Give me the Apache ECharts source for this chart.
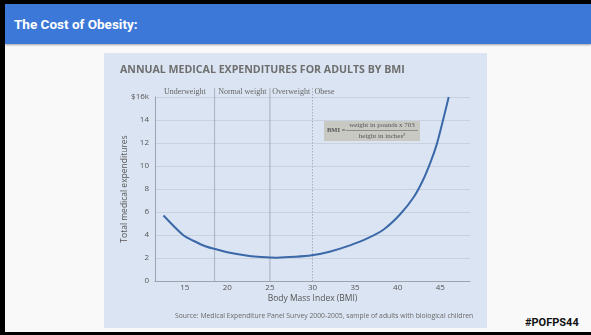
<!DOCTYPE html>
<html>
<head>
<meta charset="utf-8">
<script src="https://cdn.jsdelivr.net/npm/echarts@6/dist/echarts.min.js"></script>
<style>
  html, body { margin: 0; padding: 0; width: 591px; height: 335px; overflow: hidden; background: #000; }
  #slide { position: absolute; left: 5px; top: 4px; width: 586px; height: 328px; background: #f9f9f9; }
  #header { position: absolute; left: 0; top: 0; width: 586px; height: 40px; background: #3c78d8;
            box-shadow: 0 1px 2px rgba(0,0,0,0.35); }
  #header span { position: absolute; left: 9px; top: 12px; font: bold 13.5px Roboto, sans-serif; color: #fff; }
  #tag { position: absolute; left: 520px; top: 312px; font: bold 11px Roboto, sans-serif; color: #111; }
  #panel { position: absolute; left: 104px; top: 53px; width: 383px; height: 275px; background: #dbe4f2; }
  #chart { position: absolute; left: 0; top: 0; width: 591px; height: 335px; }
</style>
</head>
<body>
<div id="slide">
  <div id="header"><span>The Cost of Obesity:</span></div>
  <div id="tag">#POFPS44</div>
</div>
<div id="panel"></div>
<div id="chart"></div>
<script>
// Annual medical expenditures (thousand $) by body mass index
const bmi = [12.5, 14.8, 16, 17.5, 18.7, 20, 22.6, 24, 25.8, 28, 29.9, 32, 34.4, 36.5, 38.4, 40.3, 41.9, 43, 43.9, 44.6, 45.3, 46];
const spending = [5.7, 4.0, 3.5, 3.0, 2.76, 2.5, 2.17, 2.08, 2.03, 2.1, 2.23, 2.55, 3.1, 3.72, 4.5, 5.8, 7.3, 8.8, 10.4, 11.9, 13.9, 16.0];

// BMI category boundaries and names
const boundaries = [18.5, 25, 30];
const categories = ['Underweight', 'Normal weight', 'Overweight', 'Obese'];

const xTicks = [15, 20, 25, 30, 35, 40, 45];

const xMin = 11.5, xMax = 48.5;
const yMax = 16;

const chart = echarts.init(document.getElementById('chart'), null, { renderer: 'canvas' });

const labelFont = 'Liberation Serif';
const sansFont = 'Open Sans';

chart.setOption({
  backgroundColor: 'transparent',
  animation: false,
  title: {
    text: 'ANNUAL MEDICAL EXPENDITURES FOR ADULTS BY BMI',
    left: 120, top: 64, padding: 0,
    textStyle: { fontFamily: sansFont, fontWeight: 'bold', fontSize: 10.6, color: '#6e6e6e' }
  },
  grid: { left: 155, right: 121, top: 97, bottom: 54 },
  xAxis: {
    type: 'value', min: xMin, max: xMax,
    name: 'Body Mass Index (BMI)', nameLocation: 'middle', nameGap: 13, nameMoveOverlap: false,
    nameTextStyle: { fontFamily: sansFont, fontSize: 8.5, color: '#555' },
    axisLine: { show: true, lineStyle: { color: '#9aa3ae', width: 1 } },
    axisTick: { show: false },
    splitLine: { show: false },
    axisLabel: { customValues: xTicks, fontFamily: sansFont, fontSize: 8, color: '#555', margin: 3 }
  },
  yAxis: {
    type: 'value', min: 0, max: yMax, interval: 2,
    name: 'Total medical expenditures', nameLocation: 'middle', nameGap: 26, nameMoveOverlap: false,
    nameTextStyle: { fontFamily: sansFont, fontSize: 8.5, color: '#555' },
    axisLine: { show: true, lineStyle: { color: '#9aa3ae', width: 1 } },
    axisTick: { show: false },
    splitLine: { show: true, lineStyle: { color: '#c8d1de', width: 1 } },
    axisLabel: {
      fontFamily: sansFont, fontSize: 8, color: '#555', margin: 6,
      formatter: v => (v === yMax ? '$' + v + 'k' : String(v))
    }
  },
  graphic: [
    {
      type: 'text', x: 175, y: 313,
      style: {
        text: 'Source: Medical Expenditure Panel Survey 2000-2005, sample of adults with biological children',
        font: '6.8px "Open Sans"', fill: '#6a6a6a'
      }
    },
    {
      type: 'group', x: 324, y: 120,
      children: [
        { type: 'rect', shape: { x: 0, y: 0, width: 96, height: 21 }, style: { fill: '#c9c9c4' } },
        { type: 'text', x: 3, y: 10.5, style: { text: 'BMI =', font: 'bold 6.5px "Liberation Serif"', fill: '#555', verticalAlign: 'middle' } },
        { type: 'text', x: 58, y: 5.5, style: { text: 'weight in pounds x 703', font: '7px "Liberation Serif"', fill: '#555', align: 'center', verticalAlign: 'middle' } },
        { type: 'line', shape: { x1: 22, y1: 10.5, x2: 94, y2: 10.5 }, style: { stroke: '#666', lineWidth: 0.6 } },
        { type: 'text', x: 58, y: 15.8, style: { text: 'height in inches²', font: '7px "Liberation Serif"', fill: '#555', align: 'center', verticalAlign: 'middle' } }
      ]
    }
  ],
  series: [
    {
      // category dividers and names above the plot
      type: 'custom',
      clip: false,
      silent: true,
      data: [0],
      renderItem: function (params, api) {
        const children = [];
        const yBottom = api.coord([xMin, 0])[1];
        const yTop = api.coord([xMin, yMax])[1] - 9;
        const edges = [xMin].concat(boundaries);
        boundaries.forEach(function (b, i) {
          const x = api.coord([b, 0])[0];
          children.push({
            type: 'line',
            shape: { x1: x, y1: yTop, x2: x, y2: yBottom },
            style: { stroke: '#9aa1ac', lineWidth: 0.8, lineDash: i === 2 ? [1.5, 1.5] : null }
          });
        });
        categories.forEach(function (name, i) {
          let cx, align;
          if (i < boundaries.length) {
            cx = (api.coord([edges[i], 0])[0] + api.coord([edges[i + 1], 0])[0]) / 2;
            align = 'center';
          } else {
            cx = api.coord([boundaries[boundaries.length - 1], 0])[0] + 2;
            align = 'left';
          }
          children.push({
            type: 'text',
            x: cx, y: yTop + 4,
            style: { text: name, font: '8px "' + labelFont + '"', fill: '#666', align: align, verticalAlign: 'middle' }
          });
        });
        return { type: 'group', children: children };
      }
    },
    {
      type: 'line',
      data: bmi.map((b, i) => [b, spending[i]]),
      smooth: 0.3,
      showSymbol: false,
      lineStyle: { color: '#3b68a8', width: 2 }
    }
  ]
});
</script>
</body>
</html>
